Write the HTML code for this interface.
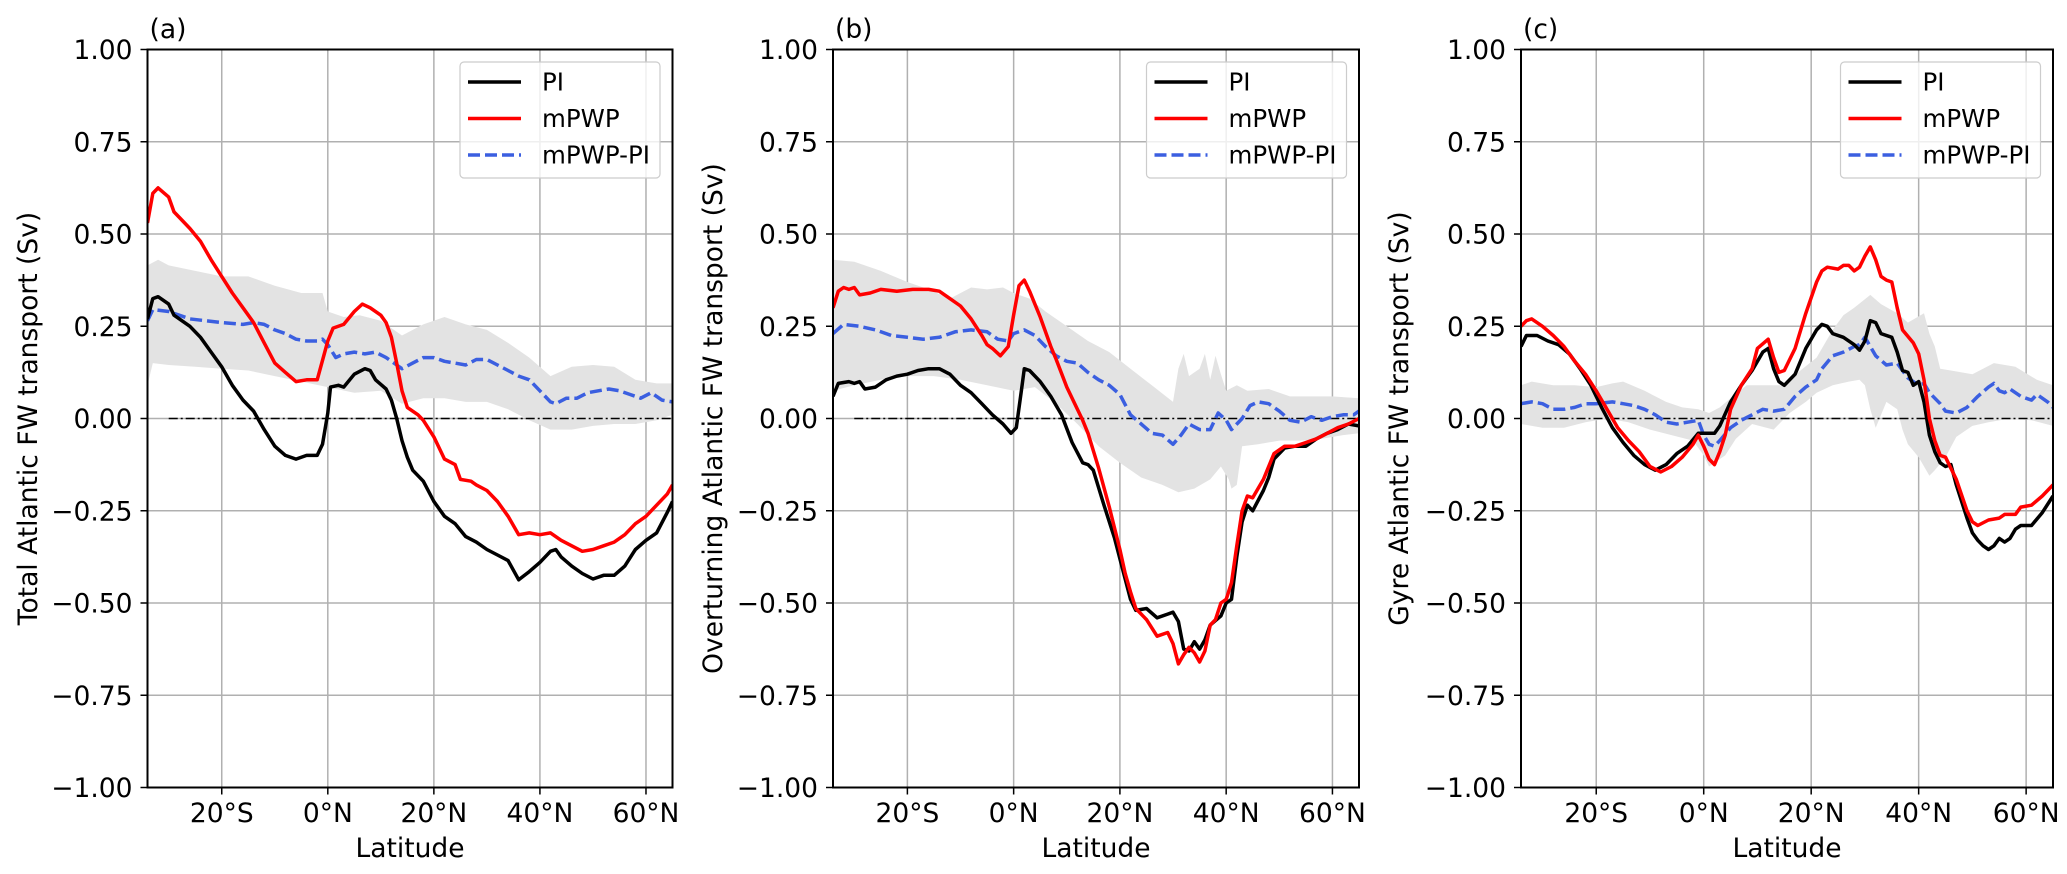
<!DOCTYPE html>
<html><head><meta charset="utf-8">
<style>
html,body{margin:0;padding:0;background:#fff;}
svg{display:block;font-family:"DejaVu Sans","Liberation Sans",sans-serif;}
</style></head>
<body>
<svg id="fig" width="2067" height="874" viewBox="0 0 2067 874" xmlns="http://www.w3.org/2000/svg"></svg>
<script>
// ---------- shared axis data ----------
const xTicks = [-20, 0, 20, 40, 60];
const xTickLabels = ["20°S", "0°N", "20°N", "40°N", "60°N"];
const yTicks = [1, 0.75, 0.5, 0.25, 0, -0.25, -0.5, -0.75, -1];
const yTickLabels = ["1.00", "0.75", "0.50", "0.25", "0.00", "\u22120.25", "\u22120.50", "\u22120.75", "\u22121.00"];
const legendLabels = ["PI", "mPWP", "mPWP-PI"];
const panelTitles = ["(a)", "(b)", "(c)"];
const yAxisTitles = ["Total Atlantic FW transport (Sv)", "Overturning Atlantic FW transport (Sv)", "Gyre Atlantic FW transport (Sv)"];

// ---------- panel (a) ----------
const aPiLat = [-34,-33,-32,-30,-29,-26,-24,-22,-20,-18,-16,-14,-12,-10,-8,-6,-4,-2,-1,0,0.5,2,3,5,7,8,9,11,12,13,14,15,16,18,20,22,24,26,28,30,32,34,36,38,40,42,43,44,46,48,50,52,54,56,58,60,62,64,65];
const aPiVal = [0.27,0.325,0.33,0.31,0.28,0.25,0.22,0.18,0.14,0.09,0.05,0.02,-0.03,-0.075,-0.10,-0.11,-0.10,-0.10,-0.07,0.015,0.085,0.09,0.085,0.12,0.135,0.13,0.105,0.08,0.05,0.0,-0.06,-0.105,-0.14,-0.17,-0.225,-0.265,-0.285,-0.32,-0.335,-0.355,-0.37,-0.385,-0.437,-0.415,-0.39,-0.36,-0.355,-0.375,-0.40,-0.42,-0.435,-0.425,-0.425,-0.40,-0.355,-0.33,-0.31,-0.255,-0.225];
const aPwLat = [-34,-33,-32,-30,-29,-28,-26,-24,-22,-20,-18,-16,-14,-12,-10,-8,-6,-4,-2,0,1,3,5,6.5,8,10,11,12,13,14,15,17,18,20,22,24,25,27,28,30,32,34,36,38,40,42,44,46,48,50,52,54,56,58,60,62,64,65];
const aPwVal = [0.53,0.61,0.625,0.60,0.56,0.545,0.515,0.48,0.43,0.385,0.34,0.30,0.26,0.205,0.15,0.125,0.10,0.105,0.105,0.21,0.245,0.255,0.29,0.31,0.30,0.28,0.26,0.22,0.15,0.075,0.03,0.01,-0.005,-0.05,-0.11,-0.125,-0.165,-0.17,-0.18,-0.195,-0.225,-0.265,-0.315,-0.31,-0.315,-0.31,-0.33,-0.345,-0.36,-0.355,-0.345,-0.335,-0.315,-0.285,-0.265,-0.235,-0.205,-0.18];
const aDfLat = [-34,-33,-30,-26,-20,-16,-14,-12,-10,-8,-6,-4,-2,-1,0,1.5,3,5,7,9,11,13,14,16,18,20,22,24,26,28,30,32,34,36,38,40,42,43,45,47,49,51,53,55,57,59,61,63,65];
const aDfVal = [0.265,0.295,0.29,0.27,0.26,0.255,0.26,0.255,0.24,0.23,0.215,0.21,0.21,0.215,0.20,0.165,0.175,0.18,0.175,0.18,0.165,0.145,0.135,0.15,0.165,0.165,0.155,0.15,0.145,0.16,0.16,0.145,0.13,0.115,0.105,0.075,0.045,0.04,0.055,0.055,0.07,0.075,0.08,0.075,0.065,0.055,0.07,0.05,0.045];
const aBandUpLat = [-34,-32,-30,-25,-20,-15,-10,-5,-1,0,3,6,10,14,18,22,26,30,34,38,42,46,50,54,58,62,65];
const aBandUpVal = [0.415,0.43,0.415,0.40,0.385,0.385,0.36,0.34,0.34,0.29,0.275,0.28,0.265,0.225,0.255,0.275,0.255,0.24,0.205,0.165,0.115,0.14,0.145,0.14,0.105,0.095,0.095];
const aBandLoLat = [-34,-33,-30,-25,-20,-15,-10,-5,0,5,10,14,18,22,26,30,34,38,42,46,50,54,58,62,65];
const aBandLoVal = [0.09,0.15,0.145,0.14,0.135,0.13,0.115,0.10,0.085,0.07,0.075,0.04,0.055,0.055,0.045,0.045,0.025,-0.005,-0.03,-0.03,-0.02,-0.015,-0.015,-0.005,0.01];

// ---------- panel (b) ----------
const bPiLat = [-34,-33,-31,-30,-29,-28,-26,-24,-22,-20,-18,-16,-14,-12,-10,-8,-6,-4,-2,-0.5,0.5,1.5,2,3,5,7,9,11,13,14,15,17,19,21,22,23,25,27,29,30,31,32,33,34,35,36,37,39,40,41,42,43,44,45,47,48,49,51,53,55,57,59,61,63,65];
const bPiVal = [0.06,0.095,0.10,0.095,0.10,0.08,0.085,0.105,0.115,0.12,0.13,0.135,0.135,0.12,0.09,0.07,0.04,0.01,-0.015,-0.04,-0.025,0.08,0.135,0.13,0.10,0.06,0.01,-0.065,-0.12,-0.125,-0.14,-0.235,-0.325,-0.435,-0.49,-0.52,-0.515,-0.54,-0.53,-0.525,-0.55,-0.625,-0.63,-0.605,-0.625,-0.60,-0.56,-0.535,-0.50,-0.49,-0.375,-0.28,-0.235,-0.25,-0.195,-0.16,-0.11,-0.08,-0.075,-0.075,-0.055,-0.04,-0.03,-0.015,-0.02];
const bPwLat = [-34,-33,-32,-31,-30,-29,-27,-25,-22,-19,-16,-14,-12,-10,-8,-6,-5,-4,-2.5,-1,0,1,2,3,5,7,8,10,12,13,14,16,18,20,21,22,23,25,27,29,30,31,32,33,34,35,36,37,38,39,40,41,42,43,44,45,47,49,51,53,55,57,59,61,63,65];
const bPwVal = [0.30,0.345,0.355,0.35,0.355,0.335,0.34,0.35,0.345,0.35,0.35,0.345,0.325,0.305,0.27,0.225,0.20,0.19,0.17,0.195,0.28,0.36,0.375,0.345,0.275,0.195,0.16,0.085,0.025,-0.005,-0.04,-0.135,-0.24,-0.355,-0.42,-0.47,-0.515,-0.545,-0.59,-0.58,-0.61,-0.665,-0.64,-0.62,-0.635,-0.66,-0.63,-0.56,-0.545,-0.50,-0.49,-0.445,-0.345,-0.25,-0.21,-0.215,-0.165,-0.095,-0.075,-0.075,-0.065,-0.055,-0.04,-0.025,-0.015,0.0];
const bDfLat = [-34,-32,-29,-26,-23,-20,-17,-14,-11,-8,-5,-3,-1,0,2,4,6,8,10,12,14,16,18,20,22,24,26,28,30,31.5,33,35,37,38.5,40,41,43,44.5,46,48,50,52,54,56,58,60,62,64,65];
const bDfVal = [0.23,0.255,0.25,0.24,0.225,0.22,0.215,0.22,0.235,0.24,0.235,0.215,0.21,0.23,0.24,0.225,0.195,0.17,0.155,0.15,0.125,0.105,0.09,0.065,0.01,-0.015,-0.04,-0.045,-0.07,-0.045,-0.015,-0.03,-0.03,0.015,-0.005,-0.03,0.0,0.035,0.045,0.04,0.02,-0.005,-0.01,0.005,-0.005,0.005,0.01,0.01,0.02];
const bBandUpLat = [-34,-30,-25,-20,-16,-12,-8,-5,-2,0,3,6,10,14,18,22,26,30,31,32,33,35,36,37,38,39,40,42,44,48,52,56,60,65];
const bBandUpVal = [0.43,0.425,0.40,0.37,0.35,0.325,0.355,0.35,0.355,0.34,0.325,0.29,0.25,0.21,0.18,0.135,0.09,0.045,0.135,0.175,0.115,0.135,0.175,0.105,0.17,0.12,0.075,0.09,0.075,0.08,0.06,0.06,0.06,0.055];
const bBandLoLat = [-34,-30,-25,-20,-15,-10,-5,0,4,8,12,16,20,24,28,31,34,37,39,40.5,41,42,43,46,50,54,58,62,65];
const bBandLoVal = [0.075,0.09,0.105,0.115,0.115,0.105,0.09,0.075,0.085,0.04,-0.015,-0.075,-0.12,-0.16,-0.18,-0.20,-0.19,-0.165,-0.13,-0.165,-0.19,-0.18,-0.075,-0.07,-0.06,-0.06,-0.055,-0.045,-0.04];

// ---------- panel (c) ----------
const cPiLat = [-34,-33,-31,-29,-27,-25,-23,-21,-19,-17,-15,-13,-11,-9,-7,-5,-3,-1,1,2,3,5,7,9,11,12,13,14,15,17,19,21,22,23,24,26,28,29,30,31,32,33,35,36,37,38,39,40,41,42,43,44,45,46,47,49,50,51,52,53,54,55,56,57,58,59,61,63,65];
const cPiVal = [0.195,0.225,0.225,0.21,0.20,0.175,0.135,0.09,0.03,-0.025,-0.065,-0.10,-0.125,-0.14,-0.125,-0.095,-0.075,-0.04,-0.04,-0.04,-0.02,0.045,0.09,0.13,0.18,0.19,0.135,0.10,0.09,0.12,0.19,0.24,0.255,0.25,0.23,0.22,0.20,0.185,0.21,0.265,0.26,0.23,0.22,0.18,0.13,0.125,0.09,0.10,0.045,-0.045,-0.09,-0.12,-0.13,-0.125,-0.18,-0.27,-0.31,-0.33,-0.345,-0.355,-0.345,-0.325,-0.335,-0.325,-0.30,-0.29,-0.29,-0.255,-0.21];
const cPwLat = [-34,-33,-32,-30,-28,-26,-24,-22,-20,-18,-16,-14,-12,-10,-8,-6,-4,-2,-1,0,1,2,3,4,5,7,9,10,12,13,14,15,17,19,21,22,23,25,26,27,28,29,30,31,32,33,34,35,36,37,39,40,41,42,43,44,45,47,49,50,51,53,55,56,58,59,61,63,65];
const cPwVal = [0.25,0.265,0.27,0.25,0.225,0.195,0.155,0.12,0.075,0.025,-0.025,-0.06,-0.09,-0.13,-0.145,-0.13,-0.105,-0.07,-0.045,-0.075,-0.11,-0.125,-0.09,-0.045,0.025,0.09,0.135,0.19,0.215,0.165,0.125,0.13,0.19,0.285,0.37,0.40,0.41,0.405,0.415,0.415,0.40,0.41,0.44,0.465,0.43,0.385,0.375,0.37,0.30,0.24,0.205,0.175,0.105,0.0,-0.06,-0.10,-0.105,-0.165,-0.25,-0.28,-0.29,-0.275,-0.27,-0.26,-0.26,-0.24,-0.235,-0.21,-0.18];
const cDfLat = [-34,-32,-30,-28,-26,-24,-22,-20,-17,-15,-13,-11,-9,-7,-5,-3,-1,0,1,2,3,5,7,9,11,13,15,17,19,21,22,24,26,28,29,30,31,32,34,36,38,40,41,42,44,45,47,49,51,53,54,55,56,57,59,61,62,64,65];
const cDfVal = [0.04,0.045,0.04,0.025,0.025,0.03,0.04,0.04,0.045,0.04,0.035,0.025,0.01,-0.01,-0.015,-0.01,-0.005,-0.045,-0.07,-0.075,-0.06,-0.025,-0.005,0.01,0.025,0.02,0.025,0.06,0.085,0.105,0.135,0.17,0.18,0.195,0.20,0.22,0.195,0.17,0.145,0.15,0.11,0.09,0.095,0.07,0.04,0.02,0.015,0.03,0.06,0.085,0.095,0.075,0.07,0.08,0.06,0.05,0.065,0.045,0.03];
const cBandUpLat = [-34,-32,-28,-24,-20,-17,-15,-11,-7,-4,-1,1,3,5,8,12,15,18,21,24,26,28,31,33,36,38,41,42,43,44,46,50,54,58,62,65];
const cBandUpVal = [0.09,0.10,0.09,0.09,0.085,0.095,0.10,0.075,0.045,0.03,0.025,0.015,0.03,0.055,0.09,0.09,0.09,0.13,0.165,0.24,0.28,0.30,0.335,0.31,0.285,0.26,0.285,0.23,0.195,0.135,0.13,0.12,0.15,0.14,0.105,0.09];
const cBandLoLat = [-34,-30,-26,-22,-18,-14,-10,-6,-2,0,1,2,4,6,9,13,16,19,21,24,27,29,30,31,32,34,36,37,38,40,42,43,45,47,50,53,57,61,65];
const cBandLoVal = [-0.015,-0.025,-0.025,-0.01,0.0,-0.01,-0.03,-0.045,-0.06,-0.10,-0.13,-0.12,-0.10,-0.055,-0.015,-0.03,0.015,0.045,0.07,0.09,0.10,0.105,0.09,0.025,-0.025,0.045,0.025,-0.03,-0.07,-0.105,-0.155,-0.14,-0.105,-0.05,-0.02,-0.01,0.0,-0.005,-0.02];

// ---------- layout ----------
const NS = "http://www.w3.org/2000/svg";
const svg = document.getElementById("fig");
const X_MIN = -34, X_MAX = 65, Y_MIN = -1, Y_MAX = 1;
const TOP = 49.5, BOTTOM = 787.5;
const FS = 26.5;
const panels = [
  {left:147.5, right:672.5, ylabX:28, key:"a",
   pi:[aPiLat,aPiVal], pw:[aPwLat,aPwVal], df:[aDfLat,aDfVal], up:[aBandUpLat,aBandUpVal], lo:[aBandLoLat,aBandLoVal]},
  {left:833, right:1359, ylabX:713, key:"b",
   pi:[bPiLat,bPiVal], pw:[bPwLat,bPwVal], df:[bDfLat,bDfVal], up:[bBandUpLat,bBandUpVal], lo:[bBandLoLat,bBandLoVal]},
  {left:1521, right:2053, ylabX:1399, key:"c",
   pi:[cPiLat,cPiVal], pw:[cPwLat,cPwVal], df:[cDfLat,cDfVal], up:[cBandUpLat,cBandUpVal], lo:[cBandLoLat,cBandLoVal]}
];

function mk(tag, attrs, parent){
  const e = document.createElementNS(NS, tag);
  for (const k in attrs) e.setAttribute(k, attrs[k]);
  (parent || svg).appendChild(e);
  return e;
}

panels.forEach((p, i) => {
  const xs = v => p.left + (v - X_MIN) / (X_MAX - X_MIN) * (p.right - p.left);
  const ys = v => TOP + (Y_MAX - v) / (Y_MAX - Y_MIN) * (BOTTOM - TOP);
  const g = mk("g", {});
  
  

  const cp = mk("clipPath", {id: "clip" + i}, g);
  mk("rect", {x:p.left, y:TOP, width:p.right-p.left, height:BOTTOM-TOP}, cp);

  xTicks.forEach(t => {
    const l = mk("line", {x1:xs(t), x2:xs(t), y1:TOP, y2:BOTTOM, stroke:"#b0b0b0", "stroke-width":1.5}, g);
    
    
  });
  yTicks.forEach(t => {
    const l = mk("line", {x1:p.left, x2:p.right, y1:ys(t), y2:ys(t), stroke:"#b0b0b0", "stroke-width":1.5}, g);
    
    
  });

  const plot = mk("g", {"clip-path": "url(#clip" + i + ")"}, g);

  let d = "";
  p.up[0].forEach((lat, k) => { d += (k ? "L" : "M") + xs(lat).toFixed(1) + "," + ys(p.up[1][k]).toFixed(1); });
  for (let k = p.lo[0].length - 1; k >= 0; k--) d += "L" + xs(p.lo[0][k]).toFixed(1) + "," + ys(p.lo[1][k]).toFixed(1);
  const band = mk("path", {d: d + "Z", fill:"#e3e3e3", stroke:"none"}, plot);
  
  

  const z = mk("line", {x1:xs(-30), x2:p.right, y1:ys(0), y2:ys(0), stroke:"#000", "stroke-width":1.5, "stroke-dasharray":"9,3,2,3"}, plot);
  
  

  function line(series, color, dash, name){
    let dd = "";
    series[0].forEach((lat, k) => { dd += (k ? "L" : "M") + xs(lat).toFixed(1) + "," + ys(series[1][k]).toFixed(1); });
    const attrs = {d:dd, fill:"none", stroke:color, "stroke-width":3.5, "stroke-linejoin":"round"};
    if (dash) attrs["stroke-dasharray"] = "12,5";
    const e = mk("path", attrs, plot);
    
    
  }
  line(p.df, "#3b5fe0", true, "series-mpwp-minus-pi");
  line(p.pi, "#000000", false, "series-pi");
  line(p.pw, "#ff0000", false, "series-mpwp");

  const fr = mk("rect", {x:p.left, y:TOP, width:p.right-p.left, height:BOTTOM-TOP, fill:"none", stroke:"#000", "stroke-width":2}, g);
  
  

  xTicks.forEach((t, k) => {
    mk("line", {x1:xs(t), x2:xs(t), y1:BOTTOM, y2:BOTTOM+7, stroke:"#000", "stroke-width":1.5}, g);
    const tx = mk("text", {x:xs(t), y:822, "font-size":FS, "text-anchor":"middle", fill:"#000"}, g);
    tx.textContent = xTickLabels[k];
    
    
  });
  yTicks.forEach((t, k) => {
    mk("line", {x1:p.left-7, x2:p.left, y1:ys(t), y2:ys(t), stroke:"#000", "stroke-width":1.5}, g);
    const tx = mk("text", {x:p.left-15, y:ys(t)+9.6, "font-size":FS, "text-anchor":"end", fill:"#000"}, g);
    tx.textContent = yTickLabels[k];
    
    
  });

  const xl = mk("text", {x:(p.left+p.right)/2, y:857, "font-size":FS, "text-anchor":"middle", fill:"#000"}, g);
  xl.textContent = "Latitude";
  
  

  const yl = mk("text", {x:0, y:0, "font-size":FS, "text-anchor":"middle", fill:"#000",
    transform:"translate(" + (p.ylabX + 9) + "," + ((TOP+BOTTOM)/2) + ") rotate(-90)"}, g);
  yl.textContent = yAxisTitles[i];
  
  

  const tt = mk("text", {x:p.left+2, y:38, "font-size":FS, fill:"#000"}, g);
  tt.textContent = panelTitles[i];
  
  

  const lg = mk("g", {}, g);
  
  
  const bx = p.right - 212.5;
  mk("rect", {x:bx, y:62, width:200, height:116, rx:4, fill:"#fff", "fill-opacity":0.8, stroke:"#cccccc", "stroke-width":1.2}, lg);
  const colors = ["#000000", "#ff0000", "#3b5fe0"];
  legendLabels.forEach((lab, k) => {
    const yy = 82 + k * 36.5;
    const la = {x1:bx+8, x2:bx+61, y1:yy, y2:yy, stroke:colors[k], "stroke-width":3.5};
    if (k === 2) la["stroke-dasharray"] = "12,5";
    const ln = mk("line", la, lg);
    
    
    const t = mk("text", {x:bx+82, y:yy+8.5, "font-size":24.5, fill:"#000"}, lg);
    t.textContent = lab;
    
    
  });
});
</script>
</body></html>
